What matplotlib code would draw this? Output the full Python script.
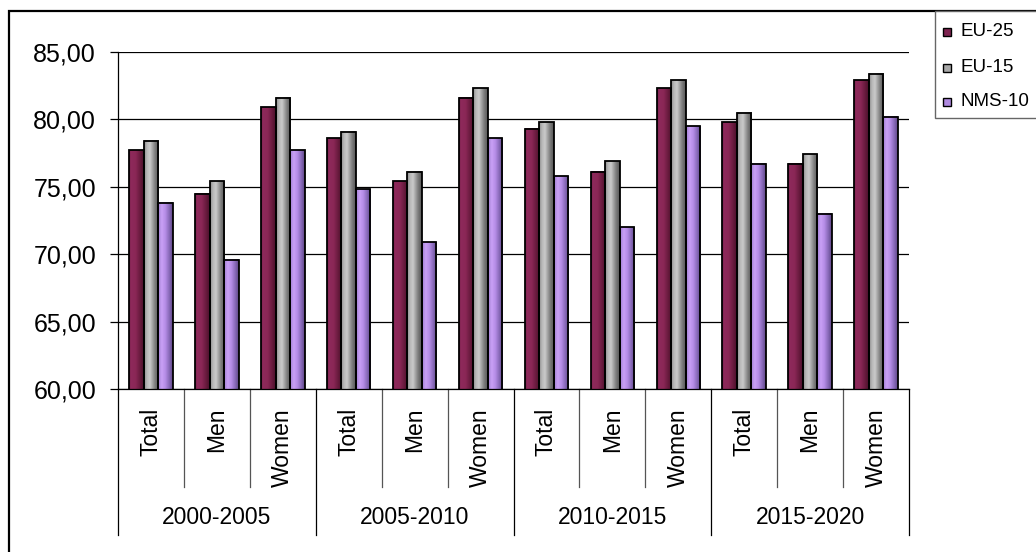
import numpy as np
import matplotlib
matplotlib.use("Agg")
import matplotlib.pyplot as plt
from matplotlib.colors import LinearSegmentedColormap
from matplotlib.patches import Rectangle
from matplotlib.lines import Line2D
import matplotlib.transforms as mtransforms

plt.rcParams['font.family'] = ['Liberation Sans', 'DejaVu Sans']

# ---- data -------------------------------------------------------------
periods = ["2000-2005", "2005-2010", "2010-2015", "2015-2020"]
groups = ["Total", "Men", "Women"]
series_names = ["EU-25", "EU-15", "NMS-10"]

eu25 = [77.7, 74.5, 80.9, 78.6, 75.4, 81.6, 79.3, 76.1, 82.3, 79.8, 76.7, 82.9]
eu15 = [78.4, 75.4, 81.6, 79.1, 76.1, 82.3, 79.8, 76.9, 82.9, 80.5, 77.4, 83.4]
nms10 = [73.8, 69.6, 77.7, 74.8, 70.9, 78.6, 75.8, 72.0, 79.5, 76.7, 73.0, 80.2]

y_ticks = [60, 65, 70, 75, 80, 85]
y_labels = ["60,00", "65,00", "70,00", "75,00", "80,00", "85,00"]

# ---- bar shading (horizontal cylinder-like gradients) ------------------
shades = [
    LinearSegmentedColormap.from_list("eu25", [
        (0.0, "#6a1c42"), (0.12, "#8e2a5b"), (0.45, "#8a2756"),
        (0.8, "#621839"), (1.0, "#48102b")]),
    LinearSegmentedColormap.from_list("eu15", [
        (0.0, "#8a8a8a"), (0.2, "#b8b8b8"), (0.4, "#cacaca"),
        (0.75, "#7c7c7c"), (1.0, "#555555")]),
    LinearSegmentedColormap.from_list("nms10", [
        (0.0, "#a07fd0"), (0.25, "#c9a0f6"), (0.5, "#b58ce6"),
        (0.8, "#8063b0"), (1.0, "#5e4682")]),
]
legend_colors = ["#7e2350", "#a8a8a8", "#b08ae0"]

W, H, DPI = 1036, 552, 100
fig = plt.figure(figsize=(W / DPI, H / DPI), dpi=DPI)
fig.patch.set_facecolor("white")

left, right, top, bottom = 118, 909, 52, 389
ax = fig.add_axes([left / W, 1 - bottom / H, (right - left) / W, (bottom - top) / H])

n_cat = len(periods) * len(groups)
centers = np.arange(n_cat) + 0.5
bw = 0.22
offsets = [-bw, 0.0, bw]
ymin, ymax = 60, 85

grad = np.linspace(0, 1, 128).reshape(1, -1)
for vals, off, cmap in zip([eu25, eu15, nms10], offsets, shades):
    bars = ax.bar(centers + off, vals, width=bw, facecolor="none",
                  edgecolor="black", linewidth=1.3, zorder=3)
    for b in bars:
        x0 = b.get_x()
        ax.imshow(grad, cmap=cmap, extent=[x0, x0 + b.get_width(), ymin, b.get_height()],
                  aspect="auto", interpolation="bilinear", zorder=2)

ax.set_xlim(0, n_cat)
ax.set_ylim(ymin, ymax)
ax.set_aspect("auto")

# grid and spines
ax.set_yticks(y_ticks)
ax.set_yticklabels(y_labels, fontsize=18)
ax.yaxis.grid(True, color="black", linewidth=0.9)
ax.set_axisbelow(True)
ax.tick_params(axis="y", length=8 * 0.72, width=0.9, pad=10, colors="black")
ax.set_xticks([])
for s in ["top", "right"]:
    ax.spines[s].set_visible(False)
ax.spines["left"].set_linewidth(0.9)
ax.spines["bottom"].set_linewidth(0.9)

# category / period labels with separators beneath the axis
axh = bottom - top
xt = ax.get_xaxis_transform()
for i in range(n_cat):
    ax.text(centers[i], -19 / axh, groups[i % 3], rotation=90, ha="center", va="top",
            fontsize=16.5, transform=xt)
for i in range(n_cat + 1):
    depth = 146 if i % 3 == 0 else 98
    col = "black" if i % 3 == 0 else "#555555"
    ax.add_line(Line2D([i, i], [0, -depth / axh], transform=xt, color=col,
                       linewidth=0.9, clip_on=False))
for j, p in enumerate(periods):
    ax.text(3 * j + 1.5, -(518 - bottom) / axh, p, ha="center", va="center",
            fontsize=16.5, transform=xt)

# outer chart frame
fig.add_artist(Rectangle((9 / W, -0.1), 2.0, 1 - 11 / H + 0.1, transform=fig.transFigure,
                         facecolor="none", edgecolor="black", linewidth=1.6))

# legend box and entries
fig.add_artist(Rectangle((935 / W, 1 - 118 / H), 0.2, (118 - 11) / H,
                         transform=fig.transFigure, facecolor="white",
                         edgecolor="#666666", linewidth=1.0))
row_y = [32, 68, 102]
for name, col, yc in zip(series_names, legend_colors, row_y):
    fig.add_artist(Rectangle((943 / W, 1 - (yc + 4) / H), 8 / W, 8 / H,
                             transform=fig.transFigure, facecolor=col,
                             edgecolor="black", linewidth=1.0))
    fig.text(961 / W, 1 - yc / H, name, ha="left", va="center", fontsize=13.5)

fig.savefig("out.png", dpi=DPI)
